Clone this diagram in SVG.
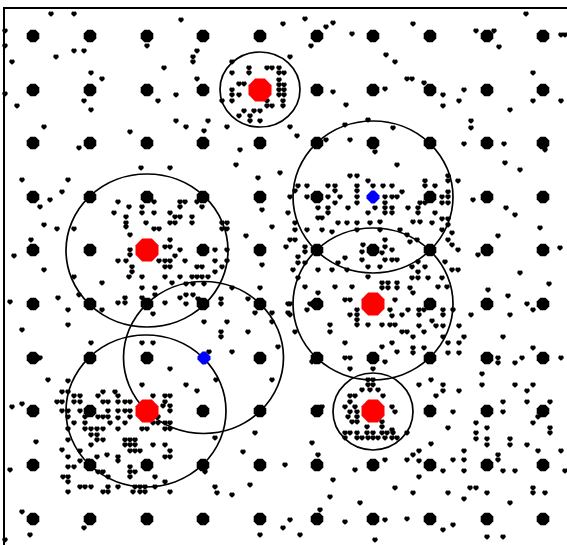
<svg xmlns="http://www.w3.org/2000/svg" xmlns:xlink="http://www.w3.org/1999/xlink" width="567" height="545" viewBox="0 0 567 545">
<style>
.ax{stroke:#000;stroke-width:2;fill:none}
.cir{stroke:#000;stroke-width:1.7;fill:none}
</style>
<defs>
<path id="m" d="M-2.8,-1.1 L-1.7,-2.6 L-0.3,-2.4 L0,-1.8 L0.3,-2.4 L1.7,-2.6 L2.8,-1.1 L2.4,0.7 L0,2.8 L-2.4,0.7Z" fill="#000"/>
<polygon id="d" points="-2.6,-6.3 2.6,-6.3 6.3,-2.6 6.3,2.6 2.6,6.3 -2.6,6.3 -6.3,2.6 -6.3,-2.6" fill="#000"/>
<polygon id="r" points="-4.8,-11.5 4.8,-11.5 11.5,-4.8 11.5,4.8 4.8,11.5 -4.8,11.5 -11.5,4.8 -11.5,-4.8" fill="#ff0000"/>
<polygon id="b" points="-1.6,-6.5 1.6,-6.5 6.5,-1.6 6.5,1.6 1.6,6.5 -1.6,6.5 -6.5,1.6 -6.5,-1.6" fill="#0000ff"/>
</defs>
<rect width="567" height="545" fill="#fff"/>
<g id="axes"><path class="ax" d="M4,545 V8 H567"/></g>
<g id="markers">
<use href="#m" x="51" y="14"/><use href="#m" x="74" y="14"/><use href="#m" x="5" y="31"/><use href="#m" x="5" y="46"/><use href="#m" x="74" y="51"/><use href="#m" x="84" y="51"/><use href="#m" x="147" y="46"/><use href="#m" x="56" y="57"/><use href="#m" x="12" y="62"/><use href="#m" x="91" y="73"/><use href="#m" x="102" y="79"/><use href="#m" x="5" y="94"/><use href="#m" x="84" y="101"/><use href="#m" x="91" y="110"/><use href="#m" x="17" y="106"/><use href="#m" x="44" y="127"/><use href="#m" x="158" y="101"/><use href="#m" x="164" y="68"/><use href="#m" x="181" y="20"/><use href="#m" x="193" y="57"/><use href="#m" x="193" y="62"/><use href="#m" x="197" y="51"/><use href="#m" x="197" y="79"/><use href="#m" x="176" y="95"/><use href="#m" x="176" y="121"/><use href="#m" x="186" y="127"/><use href="#m" x="130" y="132"/><use href="#m" x="79" y="148"/>
<use href="#m" x="526" y="14"/><use href="#m" x="413" y="24"/><use href="#m" x="476" y="31"/><use href="#m" x="494" y="31"/><use href="#m" x="499" y="47"/><use href="#m" x="561" y="35"/><use href="#m" x="565" y="35"/><use href="#m" x="533" y="73"/><use href="#m" x="407" y="79"/><use href="#m" x="412" y="79"/><use href="#m" x="424" y="83"/><use href="#m" x="443" y="95"/><use href="#m" x="464" y="90"/><use href="#m" x="443" y="106"/><use href="#m" x="459" y="101"/><use href="#m" x="510" y="110"/><use href="#m" x="533" y="101"/><use href="#m" x="561" y="101"/><use href="#m" x="471" y="121"/><use href="#m" x="471" y="128"/><use href="#m" x="464" y="144"/><use href="#m" x="504" y="144"/>
<use href="#m" x="232" y="62"/><use href="#m" x="249" y="68"/><use href="#m" x="249" y="73"/><use href="#m" x="267" y="68"/><use href="#m" x="272" y="68"/><use href="#m" x="279" y="68"/><use href="#m" x="279" y="73"/><use href="#m" x="284" y="73"/><use href="#m" x="232" y="73"/><use href="#m" x="239" y="84"/><use href="#m" x="244" y="84"/><use href="#m" x="232" y="90"/><use href="#m" x="232" y="95"/><use href="#m" x="239" y="95"/><use href="#m" x="279" y="80"/><use href="#m" x="279" y="85"/><use href="#m" x="284" y="85"/><use href="#m" x="279" y="90"/><use href="#m" x="284" y="90"/><use href="#m" x="279" y="95"/><use href="#m" x="284" y="95"/><use href="#m" x="222" y="101"/><use href="#m" x="232" y="101"/><use href="#m" x="267" y="101"/><use href="#m" x="283" y="101"/><use href="#m" x="283" y="106"/><use href="#m" x="244" y="111"/><use href="#m" x="254" y="111"/><use href="#m" x="260" y="111"/><use href="#m" x="267" y="106"/><use href="#m" x="272" y="106"/><use href="#m" x="250" y="116"/><use href="#m" x="239" y="116"/><use href="#m" x="250" y="121"/><use href="#m" x="260" y="121"/><use href="#m" x="290" y="57"/><use href="#m" x="311" y="46"/><use href="#m" x="208" y="121"/><use href="#m" x="204" y="131"/><use href="#m" x="227" y="127"/><use href="#m" x="290" y="127"/><use href="#m" x="297" y="136"/>
<use href="#m" x="68" y="180"/><use href="#m" x="62" y="192"/><use href="#m" x="57" y="229"/><use href="#m" x="74" y="229"/><use href="#m" x="118" y="202"/><use href="#m" x="129" y="207"/><use href="#m" x="114" y="213"/><use href="#m" x="142" y="207"/><use href="#m" x="154" y="202"/><use href="#m" x="142" y="213"/><use href="#m" x="154" y="213"/><use href="#m" x="126" y="217"/><use href="#m" x="126" y="223"/><use href="#m" x="126" y="227"/><use href="#m" x="146" y="223"/><use href="#m" x="154" y="229"/><use href="#m" x="159" y="229"/><use href="#m" x="170" y="213"/><use href="#m" x="175" y="217"/><use href="#m" x="180" y="217"/><use href="#m" x="175" y="223"/><use href="#m" x="170" y="223"/><use href="#m" x="180" y="202"/><use href="#m" x="185" y="202"/><use href="#m" x="180" y="207"/><use href="#m" x="141" y="168"/><use href="#m" x="170" y="168"/><use href="#m" x="197" y="202"/><use href="#m" x="202" y="207"/><use href="#m" x="192" y="217"/><use href="#m" x="192" y="223"/><use href="#m" x="222" y="223"/><use href="#m" x="227" y="223"/><use href="#m" x="222" y="229"/><use href="#m" x="227" y="229"/><use href="#m" x="130" y="235"/><use href="#m" x="170" y="240"/><use href="#m" x="165" y="247"/><use href="#m" x="170" y="247"/><use href="#m" x="130" y="250"/><use href="#m" x="130" y="255"/><use href="#m" x="180" y="250"/><use href="#m" x="215" y="250"/><use href="#m" x="227" y="250"/><use href="#m" x="118" y="261"/><use href="#m" x="126" y="261"/><use href="#m" x="132" y="267"/><use href="#m" x="159" y="261"/><use href="#m" x="165" y="261"/><use href="#m" x="170" y="261"/><use href="#m" x="165" y="267"/><use href="#m" x="170" y="267"/><use href="#m" x="175" y="256"/><use href="#m" x="185" y="261"/><use href="#m" x="197" y="267"/><use href="#m" x="202" y="267"/><use href="#m" x="215" y="261"/><use href="#m" x="222" y="267"/><use href="#m" x="227" y="261"/><use href="#m" x="132" y="272"/><use href="#m" x="129" y="277"/><use href="#m" x="142" y="277"/><use href="#m" x="165" y="277"/><use href="#m" x="180" y="277"/><use href="#m" x="192" y="277"/><use href="#m" x="197" y="277"/><use href="#m" x="202" y="277"/><use href="#m" x="208" y="277"/><use href="#m" x="215" y="272"/><use href="#m" x="102" y="283"/><use href="#m" x="142" y="288"/><use href="#m" x="155" y="288"/><use href="#m" x="172" y="283"/><use href="#m" x="74" y="277"/><use href="#m" x="79" y="295"/><use href="#m" x="125" y="298"/><use href="#m" x="125" y="303"/><use href="#m" x="118" y="303"/><use href="#m" x="155" y="295"/><use href="#m" x="142" y="298"/><use href="#m" x="165" y="303"/><use href="#m" x="180" y="298"/><use href="#m" x="102" y="310"/><use href="#m" x="68" y="310"/><use href="#m" x="68" y="325"/><use href="#m" x="58" y="298"/><use href="#m" x="153" y="314"/>
<use href="#m" x="91" y="343"/><use href="#m" x="142" y="343"/><use href="#m" x="153" y="343"/><use href="#m" x="170" y="369"/><use href="#m" x="142" y="385"/><use href="#m" x="68" y="381"/><use href="#m" x="62" y="392"/><use href="#m" x="68" y="392"/><use href="#m" x="74" y="396"/><use href="#m" x="80" y="396"/><use href="#m" x="74" y="402"/><use href="#m" x="80" y="402"/><use href="#m" x="57" y="402"/><use href="#m" x="62" y="402"/><use href="#m" x="68" y="411"/><use href="#m" x="68" y="417"/><use href="#m" x="62" y="411"/><use href="#m" x="98" y="396"/><use href="#m" x="103" y="392"/><use href="#m" x="108" y="402"/><use href="#m" x="115" y="392"/><use href="#m" x="118" y="396"/><use href="#m" x="118" y="402"/><use href="#m" x="125" y="402"/><use href="#m" x="130" y="402"/><use href="#m" x="103" y="402"/><use href="#m" x="108" y="411"/><use href="#m" x="98" y="417"/><use href="#m" x="103" y="417"/><use href="#m" x="108" y="417"/><use href="#m" x="118" y="411"/><use href="#m" x="125" y="411"/><use href="#m" x="130" y="411"/><use href="#m" x="130" y="417"/><use href="#m" x="80" y="411"/><use href="#m" x="85" y="417"/><use href="#m" x="74" y="423"/><use href="#m" x="85" y="423"/><use href="#m" x="85" y="429"/><use href="#m" x="91" y="429"/><use href="#m" x="91" y="435"/><use href="#m" x="97" y="429"/><use href="#m" x="97" y="435"/><use href="#m" x="103" y="429"/><use href="#m" x="103" y="440"/><use href="#m" x="68" y="429"/><use href="#m" x="68" y="440"/><use href="#m" x="62" y="450"/><use href="#m" x="68" y="457"/><use href="#m" x="68" y="467"/><use href="#m" x="74" y="467"/><use href="#m" x="80" y="451"/><use href="#m" x="91" y="445"/><use href="#m" x="97" y="440"/><use href="#m" x="110" y="423"/><use href="#m" x="118" y="429"/><use href="#m" x="118" y="418"/><use href="#m" x="125" y="423"/><use href="#m" x="125" y="440"/><use href="#m" x="130" y="440"/><use href="#m" x="135" y="440"/><use href="#m" x="125" y="445"/><use href="#m" x="130" y="445"/><use href="#m" x="135" y="445"/><use href="#m" x="130" y="451"/><use href="#m" x="135" y="451"/><use href="#m" x="140" y="451"/><use href="#m" x="142" y="429"/><use href="#m" x="147" y="429"/><use href="#m" x="153" y="423"/><use href="#m" x="158" y="423"/><use href="#m" x="165" y="423"/><use href="#m" x="170" y="423"/><use href="#m" x="165" y="429"/><use href="#m" x="170" y="429"/><use href="#m" x="153" y="445"/><use href="#m" x="165" y="445"/><use href="#m" x="170" y="451"/><use href="#m" x="170" y="457"/><use href="#m" x="165" y="457"/><use href="#m" x="118" y="457"/><use href="#m" x="118" y="461"/><use href="#m" x="107" y="455"/><use href="#m" x="97" y="457"/><use href="#m" x="88" y="461"/><use href="#m" x="80" y="461"/><use href="#m" x="63" y="477"/><use href="#m" x="68" y="477"/><use href="#m" x="68" y="482"/><use href="#m" x="68" y="492"/><use href="#m" x="80" y="487"/><use href="#m" x="85" y="487"/><use href="#m" x="91" y="487"/><use href="#m" x="98" y="472"/><use href="#m" x="103" y="472"/><use href="#m" x="108" y="477"/><use href="#m" x="108" y="487"/><use href="#m" x="118" y="487"/><use href="#m" x="130" y="467"/><use href="#m" x="130" y="472"/><use href="#m" x="135" y="472"/><use href="#m" x="130" y="477"/><use href="#m" x="135" y="487"/><use href="#m" x="140" y="487"/><use href="#m" x="145" y="487"/><use href="#m" x="140" y="492"/><use href="#m" x="145" y="492"/><use href="#m" x="133" y="492"/><use href="#m" x="155" y="477"/><use href="#m" x="165" y="482"/><use href="#m" x="170" y="492"/><use href="#m" x="155" y="487"/><use href="#m" x="108" y="492"/><use href="#m" x="103" y="492"/><use href="#m" x="165" y="396"/><use href="#m" x="170" y="396"/><use href="#m" x="165" y="402"/><use href="#m" x="153" y="396"/><use href="#m" x="170" y="406"/><use href="#m" x="170" y="411"/><use href="#m" x="163" y="406"/><use href="#m" x="158" y="417"/><use href="#m" x="217" y="493"/>
<use href="#m" x="186" y="284"/><use href="#m" x="193" y="284"/><use href="#m" x="204" y="284"/><use href="#m" x="186" y="295"/><use href="#m" x="193" y="295"/><use href="#m" x="198" y="299"/><use href="#m" x="186" y="304"/><use href="#m" x="221" y="299"/><use href="#m" x="221" y="304"/><use href="#m" x="232" y="288"/><use href="#m" x="260" y="288"/><use href="#m" x="248" y="299"/><use href="#m" x="255" y="313"/><use href="#m" x="272" y="313"/><use href="#m" x="272" y="322"/><use href="#m" x="288" y="304"/><use href="#m" x="288" y="313"/><use href="#m" x="204" y="322"/><use href="#m" x="227" y="322"/><use href="#m" x="221" y="332"/><use href="#m" x="221" y="337"/><use href="#m" x="248" y="332"/><use href="#m" x="209" y="352"/><use href="#m" x="232" y="352"/><use href="#m" x="278" y="347"/><use href="#m" x="216" y="380"/><use href="#m" x="186" y="385"/><use href="#m" x="197" y="391"/><use href="#m" x="272" y="380"/><use href="#m" x="255" y="433"/><use href="#m" x="215" y="438"/>
<use href="#m" x="397" y="165"/><use href="#m" x="350" y="176"/><use href="#m" x="357" y="176"/><use href="#m" x="368" y="181"/><use href="#m" x="357" y="186"/><use href="#m" x="357" y="191"/><use href="#m" x="357" y="197"/><use href="#m" x="357" y="203"/><use href="#m" x="328" y="186"/><use href="#m" x="335" y="186"/><use href="#m" x="335" y="191"/><use href="#m" x="328" y="197"/><use href="#m" x="340" y="197"/><use href="#m" x="335" y="203"/><use href="#m" x="328" y="208"/><use href="#m" x="328" y="213"/><use href="#m" x="318" y="208"/><use href="#m" x="318" y="218"/><use href="#m" x="322" y="218"/><use href="#m" x="298" y="186"/><use href="#m" x="307" y="186"/><use href="#m" x="295" y="191"/><use href="#m" x="290" y="197"/><use href="#m" x="307" y="197"/><use href="#m" x="348" y="208"/><use href="#m" x="373" y="186"/><use href="#m" x="383" y="186"/><use href="#m" x="392" y="186"/><use href="#m" x="402" y="192"/><use href="#m" x="385" y="197"/><use href="#m" x="392" y="197"/><use href="#m" x="397" y="197"/><use href="#m" x="385" y="203"/><use href="#m" x="385" y="208"/><use href="#m" x="392" y="208"/><use href="#m" x="385" y="213"/><use href="#m" x="392" y="213"/><use href="#m" x="375" y="208"/><use href="#m" x="368" y="213"/><use href="#m" x="408" y="208"/><use href="#m" x="418" y="208"/><use href="#m" x="418" y="213"/><use href="#m" x="425" y="186"/><use href="#m" x="435" y="186"/><use href="#m" x="425" y="181"/><use href="#m" x="448" y="176"/><use href="#m" x="448" y="181"/><use href="#m" x="458" y="181"/><use href="#m" x="448" y="192"/><use href="#m" x="442" y="197"/><use href="#m" x="448" y="197"/><use href="#m" x="442" y="203"/><use href="#m" x="448" y="203"/><use href="#m" x="425" y="203"/><use href="#m" x="420" y="203"/><use href="#m" x="442" y="219"/><use href="#m" x="448" y="219"/><use href="#m" x="432" y="223"/><use href="#m" x="435" y="213"/><use href="#m" x="448" y="225"/><use href="#m" x="442" y="230"/><use href="#m" x="452" y="233"/><use href="#m" x="448" y="240"/><use href="#m" x="452" y="245"/><use href="#m" x="458" y="250"/><use href="#m" x="295" y="223"/><use href="#m" x="295" y="230"/><use href="#m" x="307" y="230"/><use href="#m" x="322" y="230"/><use href="#m" x="332" y="232"/><use href="#m" x="338" y="223"/><use href="#m" x="347" y="223"/><use href="#m" x="357" y="223"/><use href="#m" x="357" y="230"/><use href="#m" x="370" y="223"/><use href="#m" x="380" y="222"/><use href="#m" x="380" y="230"/><use href="#m" x="400" y="230"/><use href="#m" x="413" y="222"/><use href="#m" x="420" y="222"/><use href="#m" x="407" y="235"/><use href="#m" x="410" y="242"/><use href="#m" x="417" y="240"/><use href="#m" x="290" y="240"/><use href="#m" x="295" y="240"/><use href="#m" x="305" y="247"/><use href="#m" x="305" y="252"/><use href="#m" x="298" y="257"/><use href="#m" x="305" y="263"/><use href="#m" x="298" y="263"/><use href="#m" x="293" y="270"/><use href="#m" x="298" y="278"/><use href="#m" x="305" y="287"/><use href="#m" x="363" y="245"/><use href="#m" x="362" y="252"/><use href="#m" x="385" y="240"/><use href="#m" x="385" y="247"/><use href="#m" x="392" y="250"/><use href="#m" x="382" y="253"/><use href="#m" x="385" y="260"/><use href="#m" x="392" y="260"/><use href="#m" x="397" y="260"/><use href="#m" x="362" y="260"/><use href="#m" x="368" y="267"/><use href="#m" x="380" y="267"/><use href="#m" x="345" y="258"/><use href="#m" x="338" y="263"/><use href="#m" x="332" y="270"/><use href="#m" x="347" y="270"/><use href="#m" x="412" y="267"/><use href="#m" x="418" y="262"/><use href="#m" x="425" y="267"/><use href="#m" x="418" y="272"/><use href="#m" x="445" y="262"/><use href="#m" x="452" y="270"/><use href="#m" x="458" y="270"/><use href="#m" x="318" y="270"/><use href="#m" x="412" y="278"/><use href="#m" x="418" y="278"/><use href="#m" x="428" y="278"/><use href="#m" x="442" y="278"/><use href="#m" x="438" y="287"/><use href="#m" x="447" y="287"/><use href="#m" x="335" y="287"/><use href="#m" x="352" y="287"/><use href="#m" x="382" y="283"/><use href="#m" x="388" y="283"/><use href="#m" x="397" y="283"/><use href="#m" x="382" y="288"/><use href="#m" x="388" y="288"/><use href="#m" x="397" y="288"/><use href="#m" x="410" y="288"/><use href="#m" x="413" y="293"/><use href="#m" x="318" y="293"/><use href="#m" x="368" y="277"/>
<use href="#m" x="290" y="304"/><use href="#m" x="290" y="315"/><use href="#m" x="307" y="310"/><use href="#m" x="310" y="304"/><use href="#m" x="345" y="300"/><use href="#m" x="350" y="300"/><use href="#m" x="357" y="310"/><use href="#m" x="357" y="315"/><use href="#m" x="350" y="315"/><use href="#m" x="390" y="310"/><use href="#m" x="357" y="320"/><use href="#m" x="392" y="316"/><use href="#m" x="395" y="300"/><use href="#m" x="382" y="325"/><use href="#m" x="368" y="325"/><use href="#m" x="357" y="325"/><use href="#m" x="330" y="325"/><use href="#m" x="330" y="332"/><use href="#m" x="390" y="325"/><use href="#m" x="395" y="325"/><use href="#m" x="295" y="332"/><use href="#m" x="345" y="343"/><use href="#m" x="392" y="343"/><use href="#m" x="382" y="347"/><use href="#m" x="397" y="352"/><use href="#m" x="345" y="358"/><use href="#m" x="350" y="358"/><use href="#m" x="385" y="362"/><use href="#m" x="312" y="362"/><use href="#m" x="350" y="369"/><use href="#m" x="373" y="369"/>
<use href="#m" x="368" y="380"/><use href="#m" x="373" y="380"/><use href="#m" x="368" y="385"/><use href="#m" x="373" y="385"/><use href="#m" x="362" y="390"/><use href="#m" x="370" y="390"/><use href="#m" x="378" y="390"/><use href="#m" x="350" y="396"/><use href="#m" x="355" y="396"/><use href="#m" x="383" y="396"/><use href="#m" x="350" y="402"/><use href="#m" x="345" y="407"/><use href="#m" x="350" y="412"/><use href="#m" x="355" y="407"/><use href="#m" x="357" y="412"/><use href="#m" x="392" y="407"/><use href="#m" x="395" y="412"/><use href="#m" x="348" y="417"/><use href="#m" x="357" y="417"/><use href="#m" x="357" y="422"/><use href="#m" x="352" y="422"/><use href="#m" x="382" y="422"/><use href="#m" x="382" y="427"/><use href="#m" x="367" y="427"/><use href="#m" x="345" y="433"/><use href="#m" x="350" y="433"/><use href="#m" x="357" y="433"/><use href="#m" x="367" y="433"/><use href="#m" x="373" y="433"/><use href="#m" x="382" y="433"/><use href="#m" x="387" y="433"/><use href="#m" x="393" y="433"/><use href="#m" x="345" y="438"/><use href="#m" x="357" y="438"/><use href="#m" x="362" y="438"/><use href="#m" x="368" y="438"/><use href="#m" x="373" y="438"/><use href="#m" x="378" y="438"/><use href="#m" x="385" y="438"/><use href="#m" x="392" y="438"/><use href="#m" x="397" y="438"/><use href="#m" x="392" y="430"/><use href="#m" x="322" y="407"/><use href="#m" x="312" y="443"/>
<use href="#m" x="527" y="304"/><use href="#m" x="533" y="310"/><use href="#m" x="510" y="315"/><use href="#m" x="471" y="315"/><use href="#m" x="402" y="315"/><use href="#m" x="408" y="310"/><use href="#m" x="419" y="310"/><use href="#m" x="424" y="310"/><use href="#m" x="419" y="315"/><use href="#m" x="443" y="310"/><use href="#m" x="443" y="315"/><use href="#m" x="453" y="310"/><use href="#m" x="432" y="321"/><use href="#m" x="419" y="326"/><use href="#m" x="436" y="326"/><use href="#m" x="443" y="326"/><use href="#m" x="459" y="326"/><use href="#m" x="402" y="332"/><use href="#m" x="407" y="332"/><use href="#m" x="413" y="337"/><use href="#m" x="424" y="332"/><use href="#m" x="443" y="337"/><use href="#m" x="464" y="337"/><use href="#m" x="503" y="337"/><use href="#m" x="448" y="343"/><use href="#m" x="459" y="343"/><use href="#m" x="413" y="348"/><use href="#m" x="413" y="353"/><use href="#m" x="424" y="348"/><use href="#m" x="448" y="353"/><use href="#m" x="459" y="353"/><use href="#m" x="533" y="348"/><use href="#m" x="498" y="358"/><use href="#m" x="498" y="363"/><use href="#m" x="515" y="363"/><use href="#m" x="522" y="358"/><use href="#m" x="561" y="358"/><use href="#m" x="482" y="374"/><use href="#m" x="482" y="385"/><use href="#m" x="431" y="380"/><use href="#m" x="419" y="385"/><use href="#m" x="443" y="385"/><use href="#m" x="443" y="391"/><use href="#m" x="459" y="391"/><use href="#m" x="436" y="396"/><use href="#m" x="515" y="385"/><use href="#m" x="527" y="391"/><use href="#m" x="533" y="385"/><use href="#m" x="503" y="402"/><use href="#m" x="503" y="412"/><use href="#m" x="527" y="402"/><use href="#m" x="550" y="402"/><use href="#m" x="453" y="412"/><use href="#m" x="476" y="423"/><use href="#m" x="487" y="428"/><use href="#m" x="448" y="428"/><use href="#m" x="538" y="417"/><use href="#m" x="533" y="423"/><use href="#m" x="550" y="428"/><use href="#m" x="550" y="433"/><use href="#m" x="476" y="433"/><use href="#m" x="476" y="439"/><use href="#m" x="487" y="439"/><use href="#m" x="487" y="445"/><use href="#m" x="510" y="439"/><use href="#m" x="510" y="445"/><use href="#m" x="527" y="445"/><use href="#m" x="431" y="444"/><use href="#m" x="407" y="433"/><use href="#m" x="413" y="455"/><use href="#m" x="419" y="451"/><use href="#m" x="407" y="460"/><use href="#m" x="419" y="461"/><use href="#m" x="464" y="451"/><use href="#m" x="453" y="460"/><use href="#m" x="464" y="460"/><use href="#m" x="498" y="455"/><use href="#m" x="498" y="460"/><use href="#m" x="538" y="451"/><use href="#m" x="561" y="451"/><use href="#m" x="443" y="471"/><use href="#m" x="464" y="471"/><use href="#m" x="503" y="471"/><use href="#m" x="515" y="471"/><use href="#m" x="565" y="471"/><use href="#m" x="419" y="477"/><use href="#m" x="470" y="488"/><use href="#m" x="476" y="488"/><use href="#m" x="533" y="488"/><use href="#m" x="533" y="493"/><use href="#m" x="545" y="493"/><use href="#m" x="413" y="493"/><use href="#m" x="448" y="493"/><use href="#m" x="487" y="493"/><use href="#m" x="464" y="499"/><use href="#m" x="510" y="503"/><use href="#m" x="407" y="519"/><use href="#m" x="453" y="525"/><use href="#m" x="443" y="530"/><use href="#m" x="487" y="537"/><use href="#m" x="503" y="537"/>
<use href="#m" x="283" y="24"/><use href="#m" x="305" y="19"/><use href="#m" x="326" y="27"/><use href="#m" x="333" y="23"/><use href="#m" x="352" y="34"/><use href="#m" x="386" y="55"/><use href="#m" x="395" y="62"/><use href="#m" x="333" y="92"/><use href="#m" x="346" y="105"/><use href="#m" x="385" y="89"/><use href="#m" x="345" y="125"/><use href="#m" x="368" y="120"/><use href="#m" x="393" y="128"/><use href="#m" x="326" y="140"/><use href="#m" x="350" y="140"/><use href="#m" x="375" y="152"/>
<use href="#m" x="240" y="150"/><use href="#m" x="258" y="178"/><use href="#m" x="280" y="173"/><use href="#m" x="262" y="210"/><use href="#m" x="272" y="227"/><use href="#m" x="246" y="236"/><use href="#m" x="262" y="265"/><use href="#m" x="286" y="247"/><use href="#m" x="288" y="213"/><use href="#m" x="236" y="165"/>
<use href="#m" x="505" y="163"/><use href="#m" x="520" y="170"/><use href="#m" x="545" y="150"/><use href="#m" x="506" y="208"/><use href="#m" x="515" y="215"/><use href="#m" x="498" y="236"/><use href="#m" x="540" y="228"/><use href="#m" x="560" y="248"/><use href="#m" x="549" y="284"/><use href="#m" x="520" y="273"/><use href="#m" x="508" y="296"/><use href="#m" x="488" y="290"/><use href="#m" x="478" y="255"/><use href="#m" x="473" y="200"/>
<use href="#m" x="22" y="180"/><use href="#m" x="40" y="207"/><use href="#m" x="50" y="200"/><use href="#m" x="14" y="256"/><use href="#m" x="31" y="240"/><use href="#m" x="44" y="225"/><use href="#m" x="10" y="302"/><use href="#m" x="22" y="330"/><use href="#m" x="44" y="270"/><use href="#m" x="40" y="358"/><use href="#m" x="12" y="407"/><use href="#m" x="22" y="404"/><use href="#m" x="48" y="380"/><use href="#m" x="36" y="442"/><use href="#m" x="10" y="470"/><use href="#m" x="22" y="512"/><use href="#m" x="5" y="540"/><use href="#m" x="30" y="535"/><use href="#m" x="84" y="528"/>
<use href="#m" x="205" y="472"/><use href="#m" x="215" y="487"/><use href="#m" x="232" y="495"/><use href="#m" x="250" y="485"/><use href="#m" x="260" y="535"/><use href="#m" x="283" y="528"/><use href="#m" x="290" y="520"/><use href="#m" x="300" y="535"/><use href="#m" x="320" y="510"/><use href="#m" x="333" y="480"/><use href="#m" x="330" y="497"/><use href="#m" x="345" y="522"/><use href="#m" x="360" y="503"/><use href="#m" x="375" y="540"/><use href="#m" x="385" y="520"/><use href="#m" x="395" y="488"/><use href="#m" x="318" y="455"/><use href="#m" x="285" y="465"/><use href="#m" x="243" y="452"/><use href="#m" x="355" y="470"/><use href="#m" x="385" y="460"/>
</g>
<g id="grid">
<use href="#d" x="33" y="36"/><use href="#d" x="90" y="36"/><use href="#d" x="147" y="36"/><use href="#d" x="203" y="36"/><use href="#d" x="260" y="36"/><use href="#d" x="317" y="36"/><use href="#d" x="373" y="36"/><use href="#d" x="430" y="36"/><use href="#d" x="487" y="36"/><use href="#d" x="543" y="36"/>
<use href="#d" x="33" y="90"/><use href="#d" x="90" y="90"/><use href="#d" x="147" y="90"/><use href="#d" x="203" y="90"/><use href="#d" x="317" y="90"/><use href="#d" x="373" y="90"/><use href="#d" x="430" y="90"/><use href="#d" x="487" y="90"/><use href="#d" x="543" y="90"/>
<use href="#d" x="33" y="143"/><use href="#d" x="90" y="143"/><use href="#d" x="147" y="143"/><use href="#d" x="203" y="143"/><use href="#d" x="260" y="143"/><use href="#d" x="317" y="143"/><use href="#d" x="373" y="143"/><use href="#d" x="430" y="143"/><use href="#d" x="487" y="143"/><use href="#d" x="543" y="143"/>
<use href="#d" x="33" y="197"/><use href="#d" x="90" y="197"/><use href="#d" x="147" y="197"/><use href="#d" x="203" y="197"/><use href="#d" x="260" y="197"/><use href="#d" x="317" y="197"/><use href="#d" x="430" y="197"/><use href="#d" x="487" y="197"/><use href="#d" x="543" y="197"/>
<use href="#d" x="33" y="250"/><use href="#d" x="90" y="250"/><use href="#d" x="203" y="250"/><use href="#d" x="260" y="250"/><use href="#d" x="317" y="250"/><use href="#d" x="373" y="250"/><use href="#d" x="430" y="250"/><use href="#d" x="487" y="250"/><use href="#d" x="543" y="250"/>
<use href="#d" x="33" y="304"/><use href="#d" x="90" y="304"/><use href="#d" x="147" y="304"/><use href="#d" x="203" y="304"/><use href="#d" x="260" y="304"/><use href="#d" x="317" y="304"/><use href="#d" x="430" y="304"/><use href="#d" x="487" y="304"/><use href="#d" x="543" y="304"/>
<use href="#d" x="33" y="358"/><use href="#d" x="90" y="358"/><use href="#d" x="147" y="358"/><use href="#d" x="260" y="358"/><use href="#d" x="317" y="358"/><use href="#d" x="373" y="358"/><use href="#d" x="430" y="358"/><use href="#d" x="487" y="358"/><use href="#d" x="543" y="358"/>
<use href="#d" x="33" y="411"/><use href="#d" x="90" y="411"/><use href="#d" x="203" y="411"/><use href="#d" x="260" y="411"/><use href="#d" x="317" y="411"/><use href="#d" x="430" y="411"/><use href="#d" x="487" y="411"/><use href="#d" x="543" y="411"/>
<use href="#d" x="33" y="465"/><use href="#d" x="90" y="465"/><use href="#d" x="147" y="465"/><use href="#d" x="203" y="465"/><use href="#d" x="260" y="465"/><use href="#d" x="317" y="465"/><use href="#d" x="373" y="465"/><use href="#d" x="430" y="465"/><use href="#d" x="487" y="465"/><use href="#d" x="543" y="465"/>
<use href="#d" x="33" y="519"/><use href="#d" x="90" y="519"/><use href="#d" x="147" y="519"/><use href="#d" x="203" y="519"/><use href="#d" x="260" y="519"/><use href="#d" x="317" y="519"/><use href="#d" x="373" y="519"/><use href="#d" x="430" y="519"/><use href="#d" x="487" y="519"/><use href="#d" x="543" y="519"/>
</g>
<g id="circles">
<ellipse class="cir" cx="260" cy="89.5" rx="40" ry="37.5"/>
<ellipse class="cir" cx="147" cy="250.5" rx="81" ry="76.5"/>
<ellipse class="cir" cx="373" cy="197" rx="80" ry="76"/>
<ellipse class="cir" cx="373" cy="304" rx="80" ry="76"/>
<ellipse class="cir" cx="203.5" cy="357.5" rx="80" ry="76"/>
<ellipse class="cir" cx="146" cy="411" rx="80" ry="76"/>
<ellipse class="cir" cx="373" cy="411.5" rx="40" ry="38.5"/>
</g>
<g id="centers">
<use href="#r" x="260" y="90"/>
<use href="#r" x="147" y="250"/>
<use href="#r" x="373" y="304"/>
<use href="#r" x="147" y="411"/>
<use href="#r" x="373" y="411"/>
<use href="#b" x="373" y="197"/>
<use href="#b" x="204" y="358"/>
</g>
</svg>
